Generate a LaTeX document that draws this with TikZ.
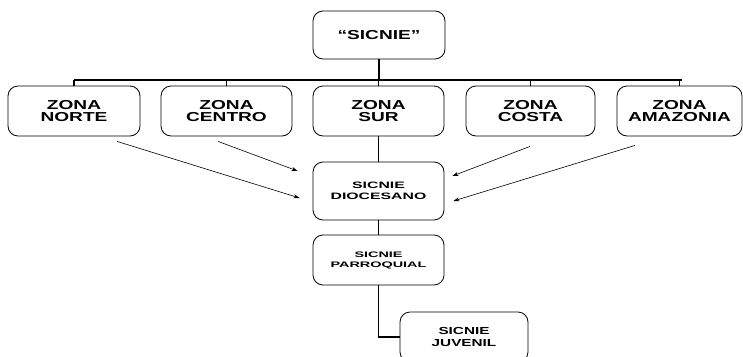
\documentclass[tikz,border=0pt]{standalone}
\usepackage{fontspec}
\usetikzlibrary{arrows.meta}
\newfontfamily\fZone[FakeStretch=1.47]{Liberation Sans}
\newfontfamily\fDio[FakeStretch=1.7]{Liberation Sans}
\newfontfamily\fPar[FakeStretch=1.8]{Liberation Sans}
\newfontfamily\fJuv[FakeStretch=1.5]{Liberation Sans}
\begin{document}
\begin{tikzpicture}[x=1pt,y=-1pt,
  box/.style={draw,line width=0.8pt,rounded corners=10pt,align=center,inner sep=0pt},
  zonebox/.style={box,minimum height=50pt,font=\fZone\bfseries\fontsize{13}{12.6}\selectfont},
  bus/.style={line width=1.8pt},
  link/.style={line width=1.2pt},
  arr/.style={line width=0.6pt,-{Stealth[length=6pt,width=4pt]}}]
\useasboundingbox (0,0) rectangle (743,356);
\node[zonebox,minimum width=132pt,minimum height=48pt] (top) at (379,35) {“SICNIE”};
\node[zonebox,minimum width=132pt] (norte) at (74,111) {ZONA\\NORTE};
\node[zonebox,minimum width=131pt] (centro) at (226.5,111) {ZONA\\CENTRO};
\node[zonebox,minimum width=131pt] (sur) at (378.5,111) {ZONA\\SUR};
\node[zonebox,minimum width=129pt] (costa) at (530.5,111) {ZONA\\COSTA};
\node[zonebox,minimum width=125pt] (amaz) at (679.5,111) {ZONA\\AMAZONIA};
\node[box,minimum width=131pt,minimum height=58pt,font=\fDio\bfseries\fontsize{9.3}{11}\selectfont] (dio) at (378.5,191) {SICNIE\\DIOCESANO};
\node[box,minimum width=131pt,minimum height=50pt,font=\fPar\bfseries\fontsize{8}{10}\selectfont] (par) at (378.5,260) {SICNIE\\PARROQUIAL};
\node[box,minimum width=128pt,minimum height=50pt,font=\fJuv\bfseries\fontsize{10.2}{12.3}\selectfont] (juv) at (464,337) {SICNIE\\JUVENIL};
% bus
\coordinate (busL) at (74,80);
\coordinate (busR) at (682,80);
\draw[bus] (top.south) -- (top.south |- busL);
\draw[bus] (busL) -- (busR);
\foreach \n in {norte,centro,sur,costa,amaz}
  \draw[bus] (\n.north) -- (\n.north |- busL);
\draw[link] (sur.south) -- (dio.north);
\draw[link] (dio.south) -- (par.north);
\draw[bus] (par.south) |- (juv.west);
% arrows
\coordinate (a1s) at ([shift={(43,5)}]norte.south);
\coordinate (a1e) at ([shift={(-13,7)}]dio.west);
\coordinate (a2s) at ([shift={(-8.5,5)}]centro.south);
\coordinate (a2e) at ([shift={(-15,-20)}]dio.west);
\coordinate (a3s) at ([shift={(-0.5,10)}]costa.south);
\coordinate (a3e) at ([shift={(8,-15)}]dio.east);
\coordinate (a4s) at ([shift={(-44.5,9)}]amaz.south);
\coordinate (a4e) at ([shift={(9,10)}]dio.east);
\draw[arr] (a1s) -- (a1e);
\draw[arr] (a2s) -- (a2e);
\draw[arr] (a3s) -- (a3e);
\draw[arr] (a4s) -- (a4e);
\end{tikzpicture}
\end{document}
